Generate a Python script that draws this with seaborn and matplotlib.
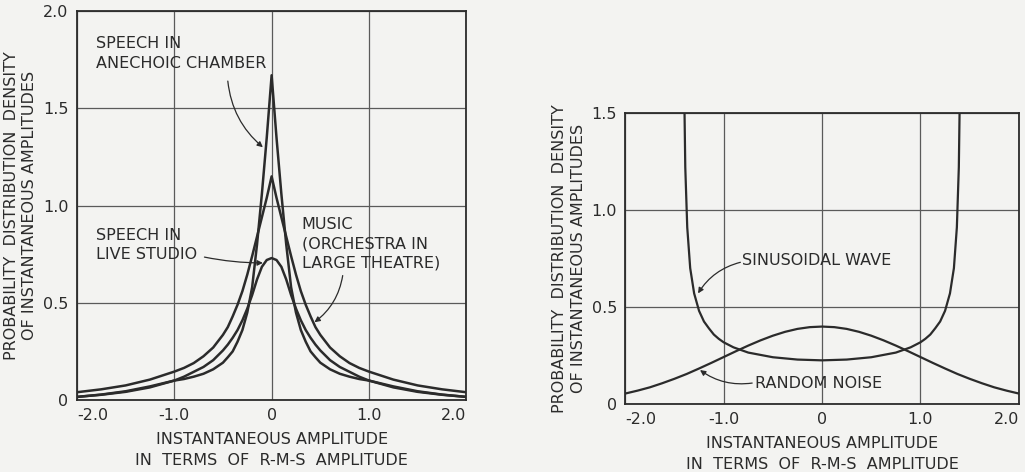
import matplotlib as mpl
mpl.use('Agg')
import matplotlib.pyplot as plt
import seaborn as sns
import numpy as np
import pandas as pd

# ---- data ----
# left panel: speech / music amplitude distributions
amp_left = [-2.0, -1.75, -1.5, -1.25, -1.0, -0.9, -0.8, -0.7, -0.6, -0.5, -0.45, -0.4, -0.35, -0.3, -0.25,
            -0.2, -0.15, -0.1, -0.05, 0.0, 0.05, 0.1, 0.15, 0.2, 0.25, 0.3, 0.35, 0.4, 0.45, 0.5, 0.6,
            0.7, 0.8, 0.9, 1.0, 1.25, 1.5, 1.75, 2.0]
speech_anechoic = [0.016, 0.028, 0.045, 0.07, 0.10, 0.108, 0.12, 0.135, 0.158, 0.192, 0.22, 0.25, 0.30, 0.36, 0.45,
                   0.58, 0.80, 1.06, 1.35, 1.67, 1.35, 1.06, 0.80, 0.58, 0.45, 0.36, 0.30, 0.25, 0.22, 0.192, 0.158,
                   0.135, 0.12, 0.108, 0.10, 0.07, 0.045, 0.028, 0.016]
music_theatre = [0.04, 0.055, 0.075, 0.105, 0.146, 0.165, 0.19, 0.225, 0.27, 0.335, 0.375, 0.43, 0.49, 0.56, 0.645,
                 0.74, 0.84, 0.94, 1.04, 1.15, 1.04, 0.94, 0.84, 0.74, 0.645, 0.56, 0.49, 0.43, 0.375, 0.335, 0.27,
                 0.225, 0.19, 0.165, 0.146, 0.105, 0.075, 0.055, 0.04]
speech_studio = [0.016, 0.027, 0.042, 0.065, 0.10, 0.12, 0.145, 0.17, 0.205, 0.255, 0.285, 0.32, 0.36, 0.41, 0.47,
                 0.54, 0.62, 0.685, 0.72, 0.73, 0.72, 0.685, 0.62, 0.54, 0.47, 0.41, 0.36, 0.32, 0.285, 0.255, 0.205,
                 0.17, 0.145, 0.12, 0.10, 0.065, 0.042, 0.027, 0.016]

# right panel: sinusoid vs random noise
amp_sine = [-1.40, -1.39, -1.37, -1.34, -1.3, -1.25, -1.2, -1.15, -1.1, -1.05, -1.0, -0.9, -0.75, -0.5, -0.25,
            0.0, 0.25, 0.5, 0.75, 0.9, 1.0, 1.05, 1.1, 1.15, 1.2, 1.25, 1.3, 1.34, 1.37, 1.39, 1.40]
sine_wave = [1.59, 1.22, 0.91, 0.70, 0.57, 0.48, 0.425, 0.39, 0.358, 0.336, 0.318, 0.292, 0.265, 0.241, 0.229,
             0.225, 0.229, 0.241, 0.265, 0.292, 0.318, 0.336, 0.358, 0.39, 0.425, 0.48, 0.57, 0.70, 0.91, 1.22, 1.59]
amp_noise = [-2.0, -1.875, -1.75, -1.625, -1.5, -1.375, -1.25, -1.125, -1.0, -0.875, -0.75, -0.625, -0.5, -0.375,
             -0.25, -0.125, 0.0, 0.125, 0.25, 0.375, 0.5, 0.625, 0.75, 0.875, 1.0, 1.125, 1.25, 1.375, 1.5, 1.625,
             1.75, 1.875, 2.0]
random_noise = [0.054, 0.069, 0.086, 0.107, 0.130, 0.155, 0.183, 0.212, 0.242, 0.272, 0.301, 0.328, 0.352, 0.372,
                0.387, 0.396, 0.399, 0.396, 0.387, 0.372, 0.352, 0.328, 0.301, 0.272, 0.242, 0.212, 0.183, 0.155,
                0.130, 0.107, 0.086, 0.069, 0.054]

x_ticks = [-2.0, -1.0, 0.0, 1.0, 2.0]
x_ticklabels = ['-2.0', '-1.0', '0', '1.0', '2.0']
y_ticks_left = [0.0, 0.5, 1.0, 1.5, 2.0]
y_ticklabels_left = ['0', '0.5', '1.0', '1.5', '2.0']
y_ticks_right = [0.0, 0.5, 1.0, 1.5]
y_ticklabels_right = ['0', '0.5', '1.0', '1.5']

ylabel = 'PROBABILITY  DISTRIBUTION  DENSITY\nOF INSTANTANEOUS AMPLITUDES'
xlabel = 'INSTANTANEOUS AMPLITUDE\nIN  TERMS  OF  R-M-S  AMPLITUDE'

sns.set_theme(style='white')
plt.rcParams['font.family'] = ['DejaVu Sans']

bg = '#f3f3f1'
ink = '#2b2b2b'
grid_c = '#5a5a5a'

fig = plt.figure(figsize=(10.25, 4.72), dpi=100, facecolor=bg)
ax1 = fig.add_axes([0.075, 0.1525, 0.380, 0.824])
ax2 = fig.add_axes([0.610, 0.144, 0.384, 0.617])

left_df = pd.DataFrame({'amp': amp_left, 'anechoic': speech_anechoic,
                        'music': music_theatre, 'studio': speech_studio})
for col in ['anechoic', 'music', 'studio']:
    sns.lineplot(data=left_df, x='amp', y=col, ax=ax1, color=ink, lw=1.8, sort=False)

sns.lineplot(x=amp_sine, y=sine_wave, ax=ax2, color=ink, lw=1.6, sort=False)
sns.lineplot(x=amp_noise, y=random_noise, ax=ax2, color=ink, lw=1.6, sort=False)


def style_axes(ax, yticks, yticklabels, ytop):
    ax.set_facecolor(bg)
    ax.set_xlim(-2.0, 2.0)
    ax.set_ylim(0, ytop)
    ax.set_xticks(x_ticks)
    ax.set_xticklabels(x_ticklabels)
    ax.set_yticks(yticks)
    ax.set_yticklabels(yticklabels)
    ax.grid(True, color=grid_c, lw=0.9)
    ax.tick_params(length=0, labelsize=11.5, colors=ink, pad=6)
    labs = ax.get_xticklabels()
    labs[0].set_ha('left')
    labs[-1].set_ha('right')
    for s in ax.spines.values():
        s.set_color(ink)
        s.set_linewidth(1.3)
    ax.set_xlabel(xlabel, fontsize=11.5, color=ink, labelpad=6, linespacing=1.5)
    ax.set_ylabel(ylabel, fontsize=11.5, color=ink, labelpad=4, linespacing=1.3)


style_axes(ax1, y_ticks_left, y_ticklabels_left, 2.0)
style_axes(ax2, y_ticks_right, y_ticklabels_right, 1.5)

txt = dict(fontsize=11.5, color=ink, linespacing=1.35)
arr = dict(arrowstyle='-|>', color=ink, lw=0.9, mutation_scale=8, shrinkA=0, shrinkB=0)

# left panel labels
ax1.text(-1.80, 1.87, 'SPEECH IN\nANECHOIC CHAMBER', ha='left', va='top', **txt)
ax1.annotate('', xy=(-0.09, 1.30), xytext=(-0.45, 1.64),
             arrowprops=dict(connectionstyle='arc3,rad=0.2', **arr))
ax1.text(-1.80, 0.885, 'SPEECH IN\nLIVE STUDIO', ha='left', va='top', **txt)
ax1.annotate('', xy=(-0.09, 0.705), xytext=(-0.69, 0.735),
             arrowprops=dict(connectionstyle='arc3,rad=0.05', **arr))
ax1.text(0.31, 0.94, 'MUSIC\n(ORCHESTRA IN\nLARGE THEATRE)', ha='left', va='top', **txt)
ax1.annotate('', xy=(0.44, 0.40), xytext=(0.73, 0.64),
             arrowprops=dict(connectionstyle='arc3,rad=-0.2', **arr))

# right panel labels
ax2.text(-0.81, 0.74, 'SINUSOIDAL WAVE', ha='left', va='center', **txt)
ax2.annotate('', xy=(-1.26, 0.57), xytext=(-0.83, 0.73),
             arrowprops=dict(connectionstyle='arc3,rad=0.2', **arr))
ax2.text(-0.68, 0.108, 'RANDOM NOISE', ha='left', va='center', **txt)
ax2.annotate('', xy=(-1.24, 0.175), xytext=(-0.71, 0.108),
             arrowprops=dict(connectionstyle='arc3,rad=-0.2', **arr))

fig.savefig('out.png', dpi=100, facecolor=bg)
